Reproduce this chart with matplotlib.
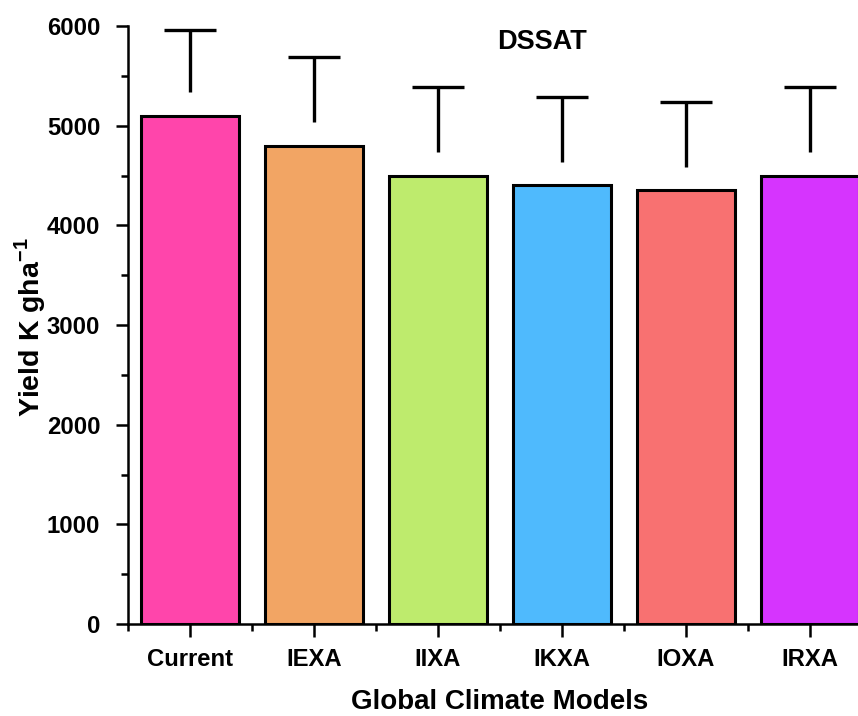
import matplotlib
matplotlib.use("Agg")
import matplotlib.pyplot as plt
from matplotlib.ticker import MultipleLocator, FixedLocator

plt.rcParams['font.family'] = ['Liberation Sans', 'DejaVu Sans']
plt.rcParams['font.weight'] = 'bold'
plt.rcParams['mathtext.fontset'] = 'custom'
plt.rcParams['mathtext.bf'] = 'Liberation Sans:bold'
plt.rcParams['mathtext.rm'] = 'Liberation Sans:bold'

models = ["Current", "IEXA", "IIXA", "IKXA", "IOXA", "IRXA"]
yield_vals = [5100, 4800, 4500, 4400, 4350, 4500]
yield_err = [860, 890, 890, 890, 890, 890]
bar_colors = ["#FF45AB", "#F2A564", "#BEEB6D", "#4FBAFD", "#F87171", "#D634FE"]

W, H = 858, 716
fig = plt.figure(figsize=(W / 100, H / 100), dpi=100)
ax = fig.add_axes([128 / W, (H - 624) / H, 6 * 124 / W, (624 - 26) / H])

x = list(range(len(models)))
ax.bar(x, yield_vals, width=0.79, color=bar_colors, edgecolor="black",
       linewidth=2.2, zorder=2)

# upper whiskers, starting a little above each bar top
gap = 240
cap_half = 0.21
starts = [v + gap for v in yield_vals]
tops = [v + e for v, e in zip(yield_vals, yield_err)]
ax.vlines(x, starts, tops, colors="black", linewidth=2.4, zorder=3)
ax.hlines(tops, [i - cap_half for i in x], [i + cap_half for i in x],
          colors="black", linewidth=2.4, zorder=3)

ax.set_xlim(-0.5, 5.5)
ax.set_ylim(0, 6000)
ax.set_xticks(x)
ax.set_xticklabels(models)
ax.xaxis.set_minor_locator(FixedLocator([i - 0.5 for i in range(len(models) + 1)]))
ax.yaxis.set_major_locator(MultipleLocator(1000))
ax.yaxis.set_minor_locator(MultipleLocator(500))

for s in ["top", "right"]:
    ax.spines[s].set_visible(False)
for s in ["left", "bottom"]:
    ax.spines[s].set_linewidth(1.8)

ax.tick_params(axis="both", which="major", direction="out", length=9,
               width=1.8, labelsize=17.2, pad=11)
ax.tick_params(axis="both", which="minor", direction="out", length=5, width=1.8)
ax.tick_params(axis="x", which="major", pad=8)
for lbl in ax.get_xticklabels() + ax.get_yticklabels():
    lbl.set_fontweight("bold")

ax.set_xlabel("Global Climate Models", fontsize=20, fontweight="bold", labelpad=13)
ax.set_ylabel("Yield K gha$^{\\mathbf{-1}}$", fontsize=20.5, fontweight="bold")
ax.yaxis.set_label_coords(-0.107, 0.497)

ax.text(2.84, 5835, "DSSAT", ha="center", va="center", fontsize=19.5, fontweight="bold")

fig.savefig("out.png", dpi=100)
